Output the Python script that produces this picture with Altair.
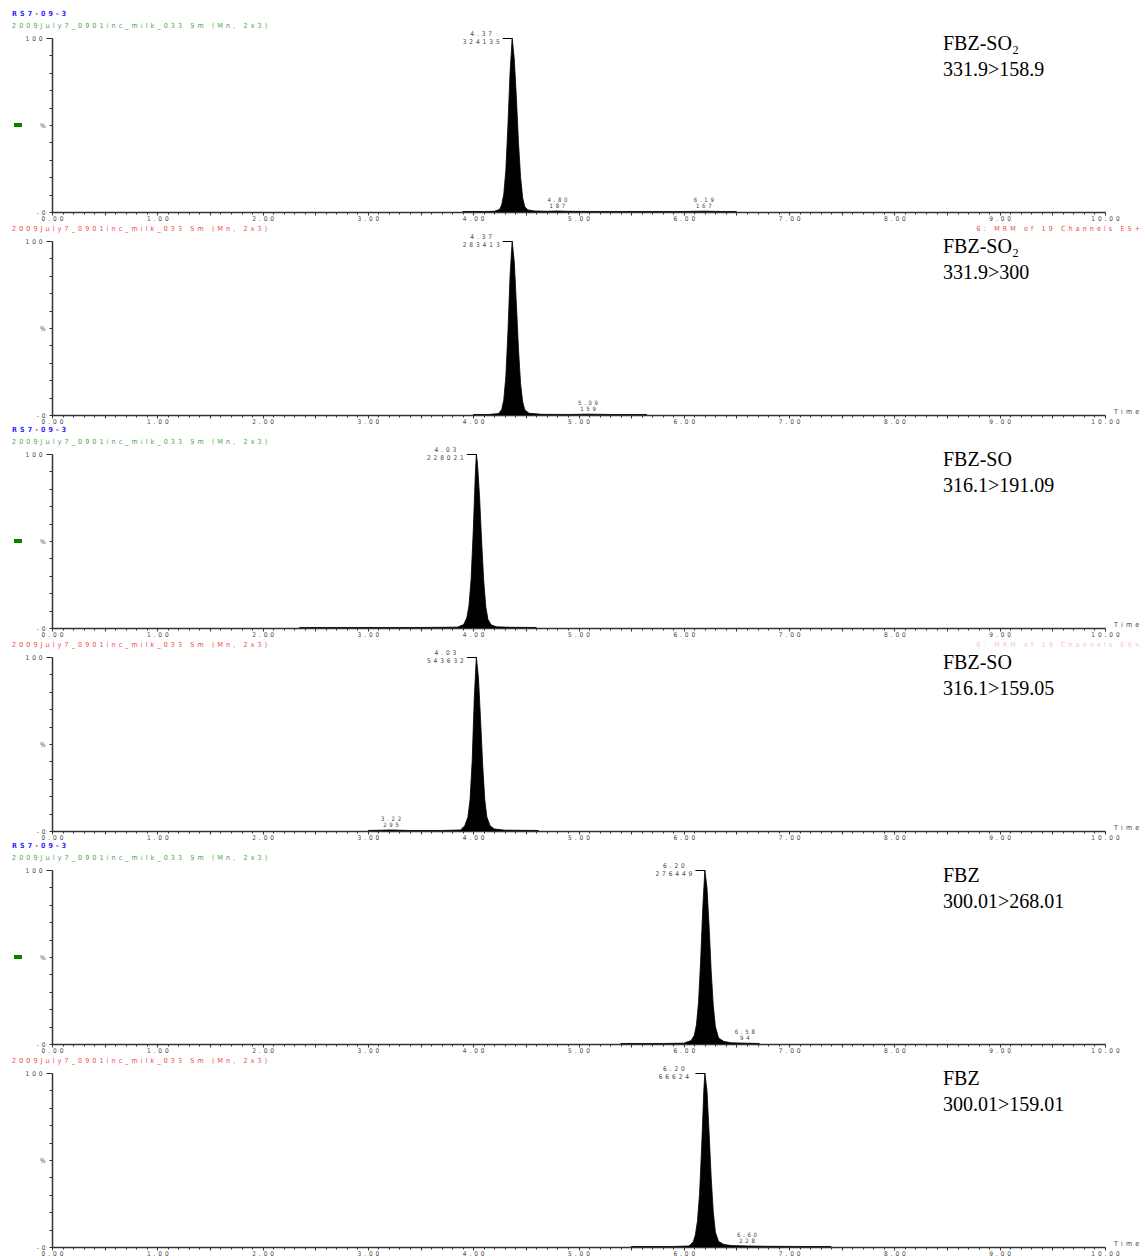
import altair as alt
import pandas as pd

# ---- run / channel text -------------------------------------------------
RUN_ID = "RS7-09-3"
SAMPLE = "2009July7_0901inc_milk_033 Sm (Mn, 2x3)"
SCAN = "6: MRM of 19 Channels ES+"

COMPOUNDS = ["FBZ-SO₂", "FBZ-SO₂", "FBZ-SO", "FBZ-SO", "FBZ", "FBZ"]
TRANSITIONS = ["331.9>158.9", "331.9>300", "316.1>191.09",
               "316.1>159.05", "300.01>268.01", "300.01>159.01"]

# ---- peak annotations -----------------------------------------------------
APEX_RT = [4.37, 4.37, 4.03, 4.03, 6.20, 6.20]
APEX_AREA = [324135, 283413, 228021, 543632, 276449, 66624]
MINOR_RT = [[4.80, 6.19], [5.09], [], [3.22], [6.58], [6.60]]
MINOR_AREA = [[187, 167], [159], [], [295], [94], [228]]

# ---- traces (retention time in min, relative intensity in %) -------------
P1_T = [3.90, 4.10, 4.20, 4.25, 4.27, 4.29, 4.31, 4.33, 4.35, 4.37, 4.39, 4.41,
        4.43, 4.45, 4.47, 4.49, 4.52, 4.58, 4.70, 4.80, 4.90, 5.20, 5.60, 6.00,
        6.19, 6.35, 6.50]
P1_I = [0.3, 0.3, 0.4, 1.5, 4, 10, 24, 50, 80, 100, 88, 66,
        40, 20, 8, 3, 1.2, 0.6, 0.4, 0.6, 0.4, 0.3, 0.3, 0.3,
        0.5, 0.3, 0.3]

P2_T = [4.00, 4.15, 4.24, 4.27, 4.29, 4.31, 4.33, 4.35, 4.37, 4.39, 4.41, 4.43,
        4.45, 4.47, 4.49, 4.53, 4.65, 4.90, 5.09, 5.30, 5.65]
P2_I = [0.3, 0.3, 0.8, 3, 8.5, 22, 48, 80, 100, 88, 64, 38,
        18, 7.5, 3, 1.0, 0.4, 0.3, 0.5, 0.3, 0.3]

P3_T = [2.35, 3.00, 3.50, 3.85, 3.91, 3.94, 3.96, 3.98, 4.00, 4.02, 4.03, 4.04,
        4.06, 4.08, 4.10, 4.12, 4.14, 4.17, 4.22, 4.35, 4.60]
P3_I = [0.3, 0.3, 0.3, 0.5, 2, 6, 13, 28, 55, 88, 100, 95,
        76, 50, 27, 12, 5, 1.8, 0.7, 0.4, 0.3]

P4_T = [3.00, 3.22, 3.40, 3.70, 3.88, 3.92, 3.95, 3.97, 3.99, 4.01, 4.03, 4.05,
        4.07, 4.09, 4.11, 4.13, 4.16, 4.20, 4.30, 4.45, 4.62]
P4_I = [0.3, 0.6, 0.3, 0.3, 0.6, 3, 8, 18, 40, 76, 100, 88,
        64, 38, 18, 8, 3, 1.2, 0.5, 0.4, 0.3]

P5_T = [5.40, 5.80, 6.00, 6.07, 6.10, 6.12, 6.14, 6.16, 6.18, 6.20, 6.22, 6.24,
        6.26, 6.28, 6.30, 6.33, 6.38, 6.45, 6.58, 6.65, 6.72]
P5_I = [0.3, 0.3, 0.5, 2, 5, 11, 24, 48, 78, 100, 90, 68,
        42, 22, 10, 3.5, 1.5, 0.7, 0.5, 0.4, 0.3]

P6_T = [5.50, 5.90, 6.05, 6.09, 6.11, 6.13, 6.15, 6.17, 6.19, 6.20, 6.22, 6.24,
        6.26, 6.28, 6.30, 6.33, 6.38, 6.45, 6.60, 6.80, 7.10, 7.40]
P6_I = [0.3, 0.3, 0.6, 3, 7, 15, 31, 58, 90, 100, 90, 66,
        40, 20, 8.5, 3.2, 1.5, 0.8, 0.6, 0.4, 0.3, 0.3]

TRACES = [(P1_T, P1_I), (P2_T, P2_I), (P3_T, P3_I),
          (P4_T, P4_I), (P5_T, P5_I), (P6_T, P6_I)]

# ---- styling ---------------------------------------------------------------
W, H = 1053, 174
TICK_FONT = "Liberation Sans Narrow, DejaVu Sans Condensed, Liberation Sans, sans-serif"
SERIF = "Liberation Serif, Times New Roman, serif"
AXIS_GREY = "#333333"
LABEL_GREY = "#444444"
BLUE = "#2a2aff"
GREEN = "#3fa83f"
RED = "#f04848"
GAP = "\u2002"
SPACE_OUT = f"join(split(datum.s, ''), '{GAP}')"

X_TICKS = [round(0.1 * k, 1) for k in range(101)]
Y_TICKS = list(range(0, 101, 10))

x_scale = alt.Scale(domain=[0, 10], nice=False, zero=False)

is_whole = "abs(datum.value - round(datum.value)) < 0.01"
is_half = "abs(datum.value - floor(datum.value) - 0.5) < 0.01"

x_axis = alt.Axis(
    values=X_TICKS,
    title=None,
    grid=False,
    labelExpr=f"{is_whole} ? join(split(format(datum.value, '.2f'), ''), '{GAP}') : ''",
    labelFont=TICK_FONT,
    labelFontSize=6.5,
    labelColor=LABEL_GREY,
    labelPadding=0,
    labelOverlap=False,
    labelFlush=False,
    labelBound=False,
    domainColor=AXIS_GREY,
    domainWidth=1.3,
    tickColor=AXIS_GREY,
    tickWidth=1,
    tickSize={"condition": {"test": f"{is_whole} || {is_half}", "value": 3}, "value": 2},
)

y_axis = alt.Axis(
    values=Y_TICKS,
    title=None,
    grid=False,
    labelExpr=(f"datum.value == 100 ? join(split(datum.label, ''), '{GAP}') : "
               f"datum.value == 0 ? '-{GAP}0' : datum.value == 50 ? '%' : ''"),
    labelFont=TICK_FONT,
    labelFontSize=6.5,
    labelColor=LABEL_GREY,
    labelPadding=4,
    labelOverlap=False,
    labelFlush=False,
    labelBound=False,
    domainColor=AXIS_GREY,
    domainWidth=1.5,
    tickColor=AXIS_GREY,
    tickWidth=1,
    tickSize={"condition": {"test": "datum.value == 100", "value": 6}, "value": 3},
)

X = alt.X("t:Q", scale=x_scale, axis=x_axis)


def text_at(s, x, y, color, size=7.0, spaced=True, align="left",
            font=TICK_FONT, opacity=1.0, weight="normal"):
    """Fixed-position text placed in pixel space relative to the plot frame."""
    base = alt.Chart(pd.DataFrame({"s": [s]}))
    base = base.transform_calculate(shown=SPACE_OUT if spaced else "datum.s")
    return base.mark_text(
        align=align, baseline="alphabetic", fontSize=size, font=font,
        color=color, opacity=opacity, fontWeight=weight,
    ).encode(x=alt.value(x), y=alt.value(y), text="shown:N")


def panel(k):
    # panels that carry the two-line header get a taller frame whose
    # upper strip stays empty, so the intensity axis starts lower down
    top = 10 if k % 2 == 0 else 0
    hh = H + top
    Y = alt.Y("i:Q", scale=alt.Scale(domain=[0, 100], nice=False, range=[hh, top]),
              axis=y_axis)

    t_vals, i_vals = TRACES[k]
    trace = pd.DataFrame({"t": t_vals, "i": i_vals})

    area = alt.Chart(trace).mark_area(color="black", opacity=1).encode(x=X, y=Y)
    line = alt.Chart(trace).mark_line(color="black", strokeWidth=0.8).encode(x=X, y=Y)

    apex = pd.DataFrame({"t": [APEX_RT[k]], "s": [f"{APEX_RT[k]:.2f}"],
                         "a": [str(APEX_AREA[k])]})
    apex_base = alt.Chart(apex).transform_calculate(
        rt_txt=f"join(split(datum.s, ''), '{GAP}')",
        area_txt=f"join(split(datum.a, ''), '{GAP}')",
        t2="datum.t - 0.09",
    )
    apex_rt = apex_base.mark_text(
        align="center", baseline="alphabetic", fontSize=6.5, font=TICK_FONT,
        color=LABEL_GREY, dx=-31,
    ).encode(x=X, y=alt.value(top - 2), text="rt_txt:N")
    apex_area = apex_base.mark_text(
        align="center", baseline="alphabetic", fontSize=6.5, font=TICK_FONT,
        color=LABEL_GREY, dx=-31,
    ).encode(x=X, y=alt.value(top + 6), text="area_txt:N")
    bracket = apex_base.mark_rule(color="black", strokeWidth=1).encode(
        x=X, x2="t2:Q", y=alt.value(top + 0.5))

    layers = [area, line, bracket, apex_rt, apex_area]

    if MINOR_RT[k]:
        minor = pd.DataFrame({
            "t": MINOR_RT[k],
            "s": [f"{v:.2f}" for v in MINOR_RT[k]],
            "a": [str(v) for v in MINOR_AREA[k]],
        })
        minor_base = alt.Chart(minor).transform_calculate(
            rt_txt=f"join(split(datum.s, ''), '{GAP}')",
            area_txt=f"join(split(datum.a, ''), '{GAP}')",
        )
        for field, yy in (("rt_txt", hh - 10), ("area_txt", hh - 4)):
            layers.append(minor_base.mark_text(
                align="center", baseline="alphabetic", fontSize=6,
                font=TICK_FONT, color=LABEL_GREY,
            ).encode(x=X, y=alt.value(yy), text=f"{field}:N"))

    # acquisition header above each panel
    if k % 2 == 0:
        layers.append(text_at(RUN_ID, -40, top - 22, BLUE, size=7, weight="bold"))
        layers.append(text_at(SAMPLE, -40, top - 10, GREEN, size=7))
        marker = alt.Chart(pd.DataFrame({"m": [1]})).mark_rect(color="#0a7f0a").encode(
            x=alt.value(-38), x2=alt.value(-30),
            y=alt.value(top + H / 2 - 2), y2=alt.value(top + H / 2 + 2))
        layers.append(marker)
    else:
        layers.append(text_at(SAMPLE, -40, top - 10, RED, size=7))

    if k == 1:
        layers.append(text_at(SCAN, 1088, top - 10, RED, size=7, align="right"))
    if k == 3:
        layers.append(text_at(SCAN, 1088, top - 10, RED, size=7, align="right", opacity=0.35))

    if k in (1, 2, 3, 5):
        layers.append(text_at("Time", 1062, hh - 1, LABEL_GREY, size=7))

    # compound name and MRM transition
    layers.append(text_at(COMPOUNDS[k], 891, top + 12, "black", size=20, spaced=False, font=SERIF))
    layers.append(text_at(TRANSITIONS[k], 891, top + 38, "black", size=20, spaced=False, font=SERIF))

    return alt.layer(*layers).properties(width=W, height=hh)


chart = alt.vconcat(
    *[panel(k) for k in range(6)], spacing=29, bounds="flush",
).properties(
    padding={"left": 12, "top": 10, "right": 2, "bottom": 2},
    background="white",
).configure_view(stroke=None)

chart.save("out.html", embed_options={"renderer": "svg", "actions": False})
